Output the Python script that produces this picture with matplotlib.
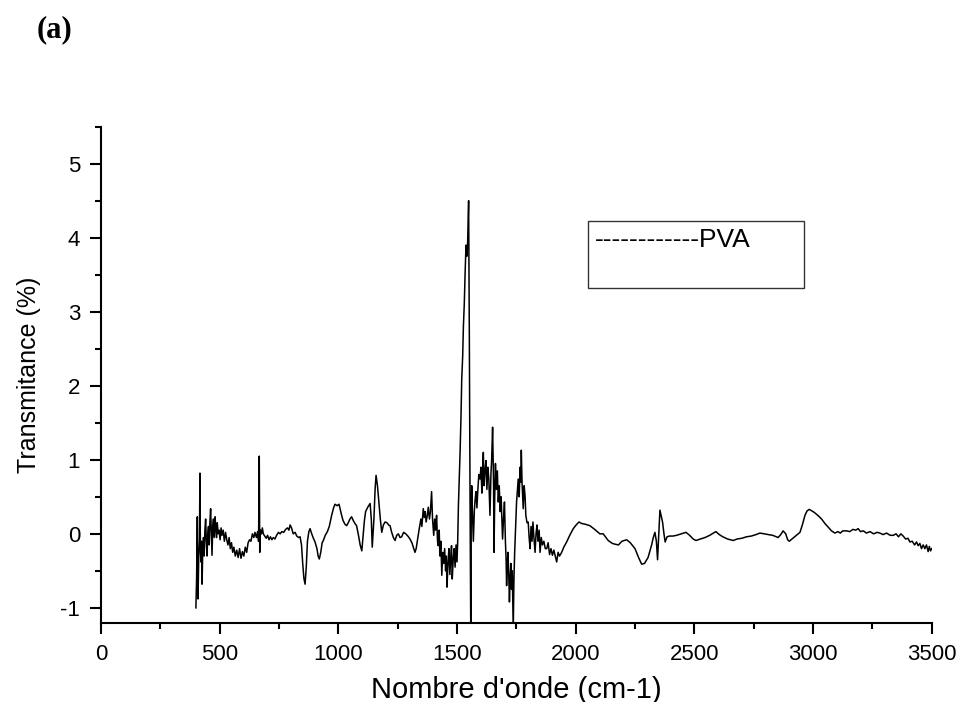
import matplotlib
matplotlib.use("Agg")
import matplotlib.pyplot as plt
from matplotlib.patches import Rectangle
from matplotlib.ticker import MultipleLocator

# FTIR spectrum of PVA
wavenumber = [
    400, 403, 406, 409, 412, 415, 417, 419, 421, 424, 426, 429, 432, 435, 438, 441, 444, 447, 450, 453,
    456, 459, 462, 465, 468, 471, 474, 477, 481, 484, 487, 490, 494, 498, 502, 506, 510, 515, 520, 525,
    530, 535, 540, 545, 550, 555, 560, 566, 572, 578, 584, 590, 596, 602, 608, 614, 620, 626, 632, 638,
    644, 649, 655, 660, 664, 667, 669, 672, 676, 680, 684, 690, 696, 702, 708, 714, 720, 726, 733, 740,
    748, 755, 762, 770, 778, 786, 792, 797, 803, 810, 818, 825, 833, 839, 845, 850, 855, 860, 865, 870,
    876, 881, 888, 895, 902, 910, 915, 920, 926, 932, 937, 945, 954, 962, 972, 980, 986, 995, 1003, 1008,
    1014, 1020, 1028, 1035, 1042, 1049, 1056, 1063, 1070, 1077, 1085, 1092, 1099, 1104, 1110, 1115, 1124,
    1134, 1139, 1143, 1150, 1155, 1159, 1165, 1171, 1177, 1183, 1190, 1197, 1205, 1212, 1218, 1225, 1232,
    1239, 1246, 1253, 1260, 1267, 1275, 1284, 1293, 1302, 1310, 1318, 1323, 1328, 1334, 1340, 1348, 1352,
    1358, 1362, 1366, 1370, 1375, 1379, 1384, 1388, 1393, 1397, 1402, 1406, 1410, 1414, 1418, 1421, 1425,
    1428, 1432, 1436, 1440, 1444, 1448, 1452, 1455, 1458, 1462, 1466, 1470, 1474, 1477, 1480, 1484, 1488,
    1492, 1496, 1500, 1503, 1506, 1510, 1513, 1517, 1520, 1524, 1527, 1531, 1534, 1538, 1542, 1545, 1549,
    1552, 1555, 1558, 1560, 1562, 1565, 1569, 1573, 1576, 1580, 1584, 1588, 1592, 1597, 1601, 1605, 1608,
    1611, 1614, 1618, 1622, 1626, 1630, 1634, 1639, 1643, 1646, 1650, 1654, 1656, 1659, 1662, 1666, 1670,
    1674, 1678, 1682, 1686, 1690, 1692, 1696, 1700, 1704, 1707, 1709, 1712, 1715, 1718, 1721, 1724, 1727,
    1730, 1733, 1737, 1740, 1743, 1747, 1751, 1755, 1758, 1762, 1766, 1769, 1771, 1774, 1777, 1779, 1783,
    1787, 1790, 1795, 1800, 1804, 1808, 1812, 1816, 1820, 1824, 1829, 1833, 1837, 1841, 1846, 1850, 1855,
    1860, 1866, 1872, 1878, 1884, 1890, 1896, 1902, 1908, 1914, 1920, 1926, 1932, 1941, 1950, 1962, 1975,
    1990, 2002, 2014, 2025, 2040, 2060, 2080, 2102, 2116, 2137, 2155, 2166, 2180, 2195, 2215, 2230, 2250,
    2265, 2278, 2290, 2305, 2320, 2327, 2334, 2340, 2345, 2350, 2355, 2360, 2366, 2372, 2377, 2385, 2395,
    2410, 2425, 2445, 2465, 2480, 2495, 2507, 2525, 2545, 2565, 2580, 2591, 2605, 2620, 2640, 2664, 2680,
    2700, 2720, 2740, 2760, 2776, 2795, 2811, 2830, 2853, 2864, 2874, 2885, 2893, 2900, 2915, 2930, 2945,
    2955, 2966, 2975, 2984, 2995, 3005, 3020, 3036, 3050, 3064, 3078, 3092, 3105, 3115, 3125, 3142, 3155,
    3168, 3180, 3190, 3200, 3212, 3225, 3240, 3255, 3270, 3282, 3295, 3310, 3325, 3338, 3350, 3360, 3370,
    3380, 3390, 3400, 3408, 3418, 3428, 3436, 3443, 3450, 3457, 3464, 3471, 3478, 3485, 3490, 3495, 3500,
]
transmittance = [
    -1.00, -0.60, 0.23, -0.88, -0.30, -0.10, 0.82, -0.20, -0.38, -0.10, -0.68, -0.20, -0.05, -0.30, 0.05,
    0.20, -0.10, -0.30, 0.00, 0.10, -0.15, 0.15, 0.34, 0.00, -0.29, 0.10, 0.20, -0.05, 0.23, 0.05, -0.05,
    0.15, 0.00, 0.05, -0.08, 0.08, -0.02, 0.05, -0.10, 0.02, -0.08, -0.15, -0.05, -0.20, -0.12, -0.25,
    -0.18, -0.30, -0.22, -0.32, -0.20, -0.33, -0.24, -0.30, -0.18, -0.25, -0.12, -0.08, -0.10, 0.00, -0.05,
    0.02, -0.05, 0.03, -0.10, 1.05, -0.25, 0.05, 0.00, 0.08, 0.00, -0.03, -0.06, -0.02, -0.08, -0.04,
    -0.08, -0.05, -0.07, -0.02, 0.02, 0.00, 0.03, 0.02, 0.06, 0.08, 0.05, 0.12, 0.08, 0.00, 0.02, -0.03,
    -0.05, -0.04, -0.15, -0.40, -0.60, -0.68, -0.45, -0.10, 0.03, 0.07, 0.00, -0.06, -0.11, -0.20, -0.30,
    -0.34, -0.25, -0.12, -0.09, -0.02, 0.03, 0.10, 0.25, 0.35, 0.40, 0.38, 0.40, 0.33, 0.25, 0.18, 0.13,
    0.11, 0.15, 0.20, 0.23, 0.18, 0.14, 0.11, -0.02, -0.15, -0.23, -0.05, 0.18, 0.30, 0.36, 0.41, 0.20,
    -0.18, 0.20, 0.60, 0.79, 0.65, 0.43, 0.20, 0.02, 0.12, 0.16, 0.15, 0.12, 0.11, 0.02, -0.05, -0.09,
    -0.02, 0.00, -0.05, -0.04, 0.02, 0.00, -0.03, -0.07, -0.12, -0.20, -0.25, -0.20, -0.07, 0.05, 0.20,
    0.10, 0.34, 0.22, 0.30, 0.16, 0.25, 0.36, 0.20, 0.30, 0.57, 0.20, -0.02, 0.20, 0.05, 0.25, -0.10,
    -0.16, 0.05, -0.30, -0.10, -0.56, -0.25, -0.40, -0.20, -0.50, -0.30, -0.72, -0.40, -0.20, -0.55,
    -0.30, -0.16, -0.61, -0.35, -0.20, -0.45, -0.15, -0.38, -0.10, 0.38, 0.80, 1.10, 1.60, 2.09, 2.40,
    2.80, 3.13, 3.50, 3.90, 3.75, 3.95, 4.50, 2.68, 0.50, -1.30, 0.20, 0.65, 0.30, -0.10, 0.30, 0.45,
    0.57, 0.35, 0.60, 0.80, 0.74, 0.90, 0.55, 0.85, 1.10, 0.65, 0.85, 0.99, 0.60, 0.90, 0.75, 0.25, 0.80,
    1.00, 1.44, 0.70, -0.25, 0.50, 0.95, 0.60, 0.85, 0.43, 0.65, 0.30, 0.50, 0.10, -0.07, 0.20, 0.43,
    -0.10, -0.35, -0.70, -0.40, -0.25, -0.55, -0.92, -0.60, -0.40, -0.75, -0.50, -1.30, -0.60, -0.25,
    0.10, 0.43, 0.60, 0.74, 0.50, 0.90, 0.70, 1.13, 0.70, 0.50, 0.34, 0.65, 0.50, 0.25, 0.15, 0.16,
    -0.05, -0.20, 0.10, -0.10, 0.16, -0.05, -0.25, 0.00, 0.12, -0.10, 0.05, -0.25, -0.05, -0.15, -0.10,
    -0.20, -0.20, -0.12, -0.28, -0.20, -0.29, -0.22, -0.30, -0.38, -0.25, -0.30, -0.25, -0.18, -0.11,
    -0.02, 0.07, 0.12, 0.16, 0.14, 0.13, 0.11, 0.06, 0.00, 0.00, -0.09, -0.13, -0.14, -0.15, -0.10,
    -0.08, -0.12, -0.20, -0.32, -0.41, -0.40, -0.32, -0.15, -0.05, 0.02, -0.10, -0.35, 0.00, 0.32, 0.25,
    0.16, 0.00, -0.11, -0.04, -0.03, -0.03, -0.02, 0.00, 0.02, -0.02, -0.07, -0.09, -0.07, -0.05, -0.02,
    0.01, 0.03, -0.01, -0.04, -0.07, -0.09, -0.07, -0.06, -0.04, -0.03, -0.01, 0.01, 0.00, -0.01, -0.02,
    -0.05, -0.01, 0.04, 0.00, -0.08, -0.10, -0.06, -0.02, 0.02, 0.12, 0.25, 0.31, 0.33, 0.31, 0.29, 0.25,
    0.20, 0.14, 0.09, 0.04, 0.01, 0.03, 0.01, 0.04, 0.04, 0.03, 0.06, 0.05, 0.07, 0.03, 0.04, 0.01, 0.03,
    0.00, 0.02, 0.01, -0.01, 0.01, -0.02, -0.02, 0.00, -0.04, 0.00, -0.03, -0.07, -0.06, -0.11, -0.10,
    -0.15, -0.11, -0.16, -0.13, -0.20, -0.15, -0.20, -0.15, -0.24, -0.17, -0.23, -0.20,
]

plt.rcParams['font.family'] = ['Liberation Sans', 'DejaVu Sans']
plt.rcParams['axes.unicode_minus'] = False

fig = plt.figure(figsize=(9.66, 7.02), dpi=100)
ax = fig.add_axes([0.1045, 0.113, 0.86, 0.7066])

ax.plot(wavenumber, transmittance, color='black', lw=1.1)

ax.set_xlim(0, 3500)
ax.set_ylim(-1.2, 5.5)
ax.xaxis.set_major_locator(MultipleLocator(500))
ax.xaxis.set_minor_locator(MultipleLocator(250))
ax.yaxis.set_major_locator(MultipleLocator(1))
ax.yaxis.set_minor_locator(MultipleLocator(0.5))

for s in ['top', 'right']:
    ax.spines[s].set_visible(False)
for s in ['left', 'bottom']:
    ax.spines[s].set_linewidth(1.5)

ax.tick_params(which='major', direction='out', length=8, width=1.5, labelsize=16, pad=7)
ax.tick_params(which='minor', direction='out', length=4, width=1.5)

ax.set_xlabel("Nombre d'onde (cm-1)", fontsize=21, labelpad=8)
ax.set_ylabel("Transmitance (%)", fontsize=18, labelpad=14)

# legend-like box with dashes written as text
ax.add_patch(Rectangle((0.5867, 0.6754), 0.2596, 0.1346, transform=ax.transAxes,
                       fill=False, edgecolor='#333333', lw=1.0))
ax.text(0.5946, 0.7716, "------------PVA", transform=ax.transAxes, fontsize=19,
        ha='left', va='center')

fig.text(0.038, 0.957, "(a)", fontsize=22, fontweight='bold', family='Liberation Serif',
         ha='left', va='center')

fig.savefig("out.png", dpi=100)
